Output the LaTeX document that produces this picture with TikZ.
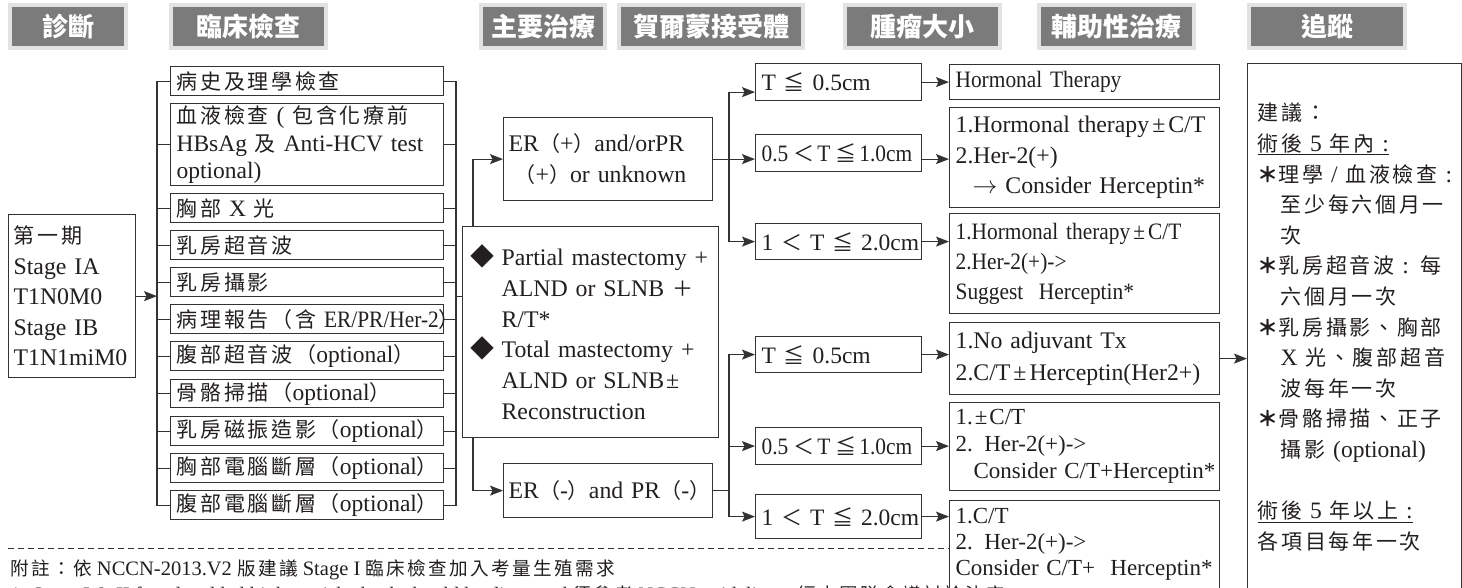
\documentclass[tikz,border=0pt]{standalone}
\usepackage{fontspec}
\setmainfont{Liberation Serif}
\newfontfamily\cjk{Noto Sans CJK TC}[LetterSpace=13]
\newfontfamily\cjkhead{Noto Sans CJK TC}
\newfontfamily\cond{Liberation Serif}[FakeStretch=0.91]
\usetikzlibrary{arrows.meta,calc}
\newcommand\cj[1]{{\cjk\fontsize{21}{0}\selectfont #1}}
\newcommand\cjs[1]{{\cjk\fontsize{18.6}{0}\selectfont #1}}
\newcommand\fuast{{\cjk\bfseries\fontsize{21}{0}\selectfont ＊}}
\newcommand\dia{{\cjk\fontsize{24}{24}\selectfont ◆}}
\definecolor{lc}{HTML}{333333}
\definecolor{tc}{HTML}{231F20}
\definecolor{tabgray}{HTML}{7B7B7B}
\definecolor{tabrim}{HTML}{E2E2E2}
\tikzset{
  bx/.style={draw=lc, line width=1.2pt, anchor=north west, inner ysep=0pt, align=left, text=tc},
  tab/.style={fill=tabgray, text=white, font=\cjkhead\bfseries\fontsize{26}{26}\selectfont,
    anchor=north west, minimum height=39pt, inner sep=0pt, preaction={draw=tabrim, line width=8pt}},
  exam/.style={bx, minimum width=273pt, text width=261pt, inner xsep=6pt, font=\fontsize{23.5}{27.5}\selectfont},
  tbox/.style={bx, minimum width=166pt, text width=154pt, inner xsep=6pt, font=\fontsize{23.5}{30}\selectfont},
  adj/.style={bx, minimum width=270pt, text width=258pt, inner xsep=6pt},
  arr/.style={draw=lc, line width=1.2pt, -{Stealth[length=13pt,width=10pt,inset=2.5pt]}},
  ln/.style={draw=lc, line width=1.2pt}
}
\begin{document}
\begin{tikzpicture}[x=1pt,y=-1pt]
\clip (0,0) rectangle (1462,587);
\fill[white] (0,0) rectangle (1462,587);

% header tabs
\node[tab, minimum width=112pt] (h1) at (12,7) {診斷};
\node[tab, minimum width=151pt] (h2) at (173,7) {臨床檢查};
\node[tab, minimum width=120pt] (h3) at (483,7) {主要治療};
\node[tab, minimum width=180pt] (h4) at (621,7) {賀爾蒙接受體};
\node[tab, minimum width=151pt] (h5) at (847,7) {腫瘤大小};
\node[tab, minimum width=151pt] (h6) at (1041,7) {輔助性治療};
\node[tab, minimum width=152pt] (h7) at (1251,7) {追蹤};

% stage box
\node[bx, minimum width=127pt, minimum height=163pt, text width=117pt, inner xsep=5pt,
  font=\fontsize{23.8}{30.5}\selectfont] (stage) at (8,214)
  {\cj{第一期}\\Stage IA\\T1N0M0\\Stage IB\\T1N1miM0};

% exam boxes
\node[exam, minimum height=29pt] (e1) at (170,66) {\cj{病史及理學檢查}};
\node[exam, minimum height=82pt] (e2) at (170,103) {\cj{血液檢查} ( \cj{包含化療前}\\HBsAg \cj{及} Anti-HCV test\\optional)};
\node[exam, minimum height=29pt] (e3) at (170,193) {\cj{胸部} X \cj{光}};
\node[exam, minimum height=29pt] (e4) at (170,230) {\cj{乳房超音波}};
\node[exam, minimum height=29pt] (e5) at (170,267) {\cj{乳房攝影}};
\node[exam, minimum height=29pt] (e6) at (170,304) {\mbox{\cj{病理報告（含} {\cond ER/PR/Her-2}\cj{）}}};
\node[exam, minimum height=29pt] (e7) at (170,341) {\mbox{\cj{腹部超音波（}optional\cj{）}}};
\node[exam, minimum height=28pt] (e8) at (170,379) {\mbox{\cj{骨骼掃描（}optional\cj{）}}};
\node[exam, minimum height=29pt] (e9) at (170,416) {\mbox{\cj{乳房磁振造影（}optional\cj{）}}};
\node[exam, minimum height=29pt] (e10) at (170,453) {\mbox{\cj{胸部電腦斷層（}optional\cj{）}}};
\node[exam, minimum height=29pt] (e11) at (170,490) {\mbox{\cj{腹部電腦斷層（}optional\cj{）}}};

% surgery box
\node[bx, minimum width=256pt, minimum height=211pt, text width=240pt, inner xsep=8pt,
  font=\fontsize{23.8}{30.8}\selectfont] (surg) at (462,226)
  {\makebox[31pt][l]{\dia}Partial mastectomy +\\
   \hspace*{31pt}ALND or SLNB \cj{＋}\\
   \hspace*{31pt}R/T*\\
   \makebox[31pt][l]{\dia}Total mastectomy +\\
   \hspace*{31pt}ALND or SLNB\kern2pt±\\
   \hspace*{31pt}Reconstruction};

% receptor boxes
\node[bx, minimum width=209pt, minimum height=83pt, text width=199pt, inner xsep=5pt,
  font=\fontsize{23.8}{31}\selectfont] (erp) at (503,117)
  {\mbox{ER\cj{（}+\cj{）}and/orPR}\\\hspace*{6pt}\mbox{\cj{（}+\cj{）}or unknown}};
\node[bx, minimum width=209pt, minimum height=54pt, text width=199pt, inner xsep=5pt,
  font=\fontsize{23.8}{31}\selectfont] (ern) at (503,463)
  {\mbox{ER\cj{（}-\cj{）}and PR\cj{（}-\cj{）}}};

% tumour size boxes
\node[tbox, minimum height=37pt] (t1) at (755,63) {\mbox{T \cj{≦} 0.5cm}};
\node[tbox, minimum height=37pt] (t2) at (755,134) {\mbox{\cond 0.5\kern5pt\cj{＜}\kern3pt T\kern5pt\cj{≦}\kern3pt 1.0cm}};
\node[tbox, minimum height=36pt] (t3) at (755,223) {\mbox{1 \cj{＜} T \cj{≦} 2.0cm}};
\node[tbox, minimum height=36pt] (t4) at (755,336) {\mbox{T \cj{≦} 0.5cm}};
\node[tbox, minimum height=37pt] (t5) at (755,427) {\mbox{\cond 0.5\kern5pt\cj{＜}\kern3pt T\kern5pt\cj{≦}\kern3pt 1.0cm}};
\node[tbox, minimum height=44pt] (t6) at (755,494) {\mbox{1 \cj{＜} T \cj{≦} 2.0cm}};

% adjuvant boxes
\node[adj, minimum height=35pt, font=\fontsize{23.5}{30}\selectfont] (a1) at (949,64)
  {{\cond Hormonal Therapy}};
\node[adj, minimum height=100pt, font=\fontsize{23.8}{30.5}\selectfont] (a2) at (949,107)
  {\mbox{1.Hormonal therapy\kern3pt±\kern3pt C/T}\\2.Her-2(+)\\\hspace*{17pt}$\rightarrow$ Consider Herceptin*};
\node[adj, minimum height=100pt, font=\fontsize{23.5}{30}\selectfont] (a3) at (949,213)
  {{\cond 1.Hormonal therapy\kern3pt±\kern3pt C/T}\\{\cond 2.Her-2(+)->}\\{\cond Suggest\ \ Herceptin*}};
\node[adj, minimum height=72pt, font=\fontsize{23.8}{32}\selectfont] (a4) at (949,322)
  {1.No adjuvant Tx\\\mbox{2.C/T\kern3pt±\kern3pt Herceptin(Her2+)}};
\node[adj, minimum height=88pt, font=\fontsize{23}{27}\selectfont] (a5) at (949,402)
  {1.\kern2pt±\kern2pt C/T\\2. Her-2(+)->\\\hspace*{18pt}\mbox{Consider C/T+Herceptin*}};
\node[adj, minimum height=88pt, font=\fontsize{23}{26}\selectfont] (a6) at (949,500)
  {1.C/T\\2. Her-2(+)->\\\mbox{Consider C/T+\ \ Herceptin*}};

% follow-up box
\node[bx, minimum width=214pt, minimum height=527pt, text width=194pt, inner xsep=10pt,
  font=\fontsize{23.5}{30.6}\selectfont] (fu) at (1247,63)
  {\mbox{\cj{建議：}}\\
   \mbox{\underline{\cj{術後} 5 \cj{年內} :}}\\
   \mbox{\fuast\cj{理學} / \cj{血液檢查} :}\\
   \mbox{\hspace*{23pt}\cj{至少每六個月一}}\\
   \mbox{\hspace*{23pt}\cj{次}}\\
   \mbox{\fuast\cj{乳房超音波} : \cj{每}}\\
   \mbox{\hspace*{23pt}\cj{六個月一次}}\\
   \mbox{\fuast\cj{乳房攝影、胸部}}\\
   \mbox{\hspace*{23pt}X \cj{光、腹部超音}}\\
   \mbox{\hspace*{23pt}\cj{波每年一次}}\\
   \mbox{\fuast\cj{骨骼掃描、正子}}\\
   \mbox{\hspace*{23pt}\cj{攝影} (optional)}\\
   \mbox{}\\
   \mbox{\underline{\cj{術後} 5 \cj{年以上} :}}\\
   \mbox{\cj{各項目每年一次}}};

% brackets around exam boxes
\coordinate (lbx) at (157,0);
\coordinate (rbx) at (456,0);
\draw[ln] (e1.west) -| (lbx |- e11.west) -- (e11.west);
\draw[ln] (e1.east) -| (rbx |- e11.east) -- (e11.east);
\foreach \i in {2,...,10} {
  \draw[ln] (e\i.west) -- (e\i.west -| lbx);
  \draw[ln] (e\i.east) -- (e\i.east -| rbx);
}
\draw[arr] (stage.east) -- (stage.east -| lbx);
\draw[ln] (rbx |- stage.east) -- (surg.west |- stage.east);

% surgery to receptor boxes
\coordinate (sx) at (473,0);
\draw[arr] (surg.north -| sx) |- (erp.west);
\draw[arr] (surg.south -| sx) |- (ern.west);

% receptor to tumour size
\coordinate (jx) at (729,0);
\draw[arr] (erp.east) -- (erp.east -| t2.west);
\draw[arr] (erp.east -| jx) |- ([yshift=-10pt]t1.west);
\draw[arr] (erp.east -| jx) |- (t3.west);
\draw[ln] (ern.east) -- (ern.east -| jx);
\draw[arr] (ern.east -| jx) |- (t4.west);
\draw[arr] (ern.east -| jx) |- (t5.west);
\draw[arr] (ern.east -| jx) |- (t6.west);

% tumour size to adjuvant
\draw[arr] (t1.east) -- (t1.east -| a1.west);
\draw[arr] (erp.east -| t2.east) -- (erp.east -| a2.west);
\draw[arr] (t3.east) -- (t3.east -| a3.west);
\draw[arr] (t4.east) -- (t4.east -| a4.west);
\draw[arr] (t5.east) -- (t5.east -| a5.west);
\draw[arr] (t6.east) -- (t6.east -| a6.west);
\draw[arr] (a4.east) -- (a4.east -| fu.west);

% footnote
\coordinate (dl) at (8,548);
\draw[draw=lc, line width=1pt, dash pattern=on 6pt off 4pt] (dl) -- (dl -| a6.west);
\node[anchor=base west, inner sep=0pt, text=tc, font=\fontsize{20.5}{24}\selectfont] (fn1) at (10,575)
  {\cjs{附註：依} NCCN-2013.V2 \cjs{版建議} Stage I \cjs{臨床檢查加入考量生殖需求}};
\node[anchor=base west, inner sep=0pt, text=tc, font=\fontsize{20.5}{24}\selectfont] (fn2) at (10,601)
  {1. Stage I \& II female added highest-risk check should be discussed \cjs{須參考} NCCN guideline\cjs{，經由團隊會議討論決定}};
\end{tikzpicture}
\end{document}
